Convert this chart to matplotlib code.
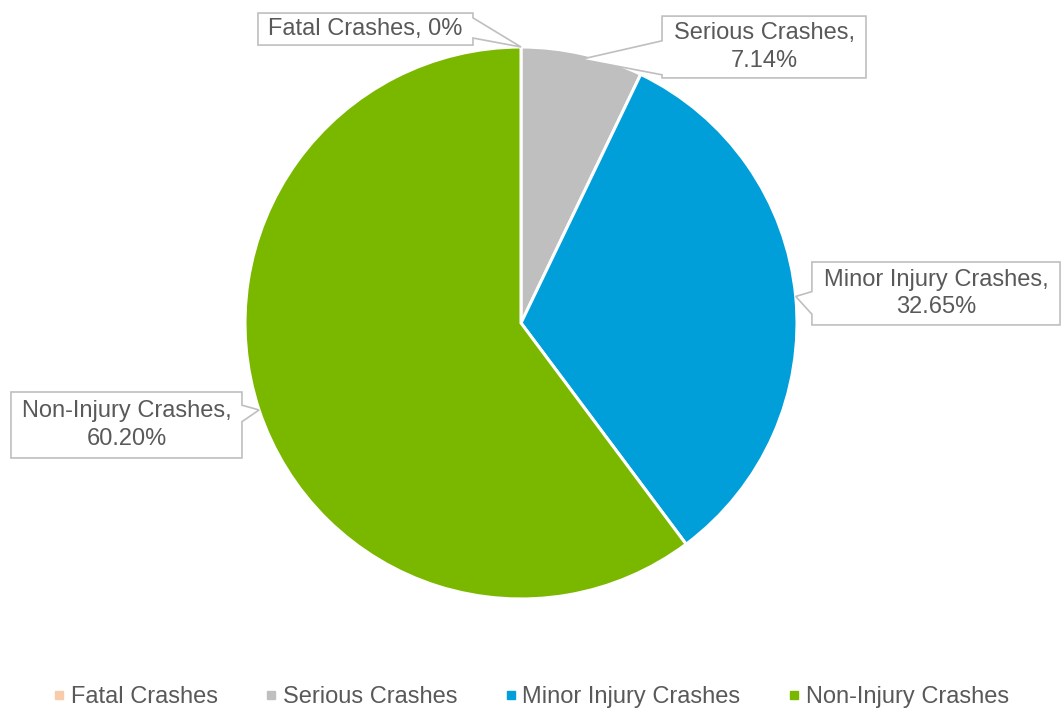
import numpy as np
import matplotlib.pyplot as plt
from matplotlib.patches import Polygon
from matplotlib.lines import Line2D

plt.rcParams['font.family'] = ['Liberation Sans', 'DejaVu Sans']

categories = ['Fatal Crashes', 'Serious Crashes', 'Minor Injury Crashes', 'Non-Injury Crashes']
values = [0, 7.14, 32.65, 60.20]
value_labels = ['0%', '7.14%', '32.65%', '60.20%']
colors = ['#F8CBAD', '#BFBFBF', '#009FDA', '#7AB800']

TEXT = '#595959'
EDGE = '#BFBFBF'

# callout boxes in axes data units (pie radius = 1): x0, x1, y0, y1, side of pointer, pointer base (fractions of height)
boxes = [
    (-0.953, -0.174, 1.007, 1.123, 'right', (0.15, 0.78), 1.0, False),
    (0.511, 1.250, 0.888, 1.112, 'left', (0.40, 0.95), 0.98, True),
    (1.054, 1.953, -0.007, 0.221, 'left', (0.47, 0.83), 1.0, True),
    (-1.848, -1.011, -0.489, -0.250, 'right', (0.20, 0.45), 1.0, True),
]

fig = plt.figure(figsize=(10.62, 7.08), dpi=100)
ax = fig.add_axes([0, 0, 1, 1])

wedges, _ = ax.pie(values, colors=colors, startangle=90, counterclock=False,
                   radius=1.0, center=(0, 0), frame=True,
                   wedgeprops=dict(edgecolor='white', linewidth=2.2))
ax.set_xlim(-521 / 276, (1062 - 521) / 276)
ax.set_ylim(-(708 - 323) / 276, 323 / 276)
ax.set_aspect('equal')
ax.axis('off')

total = sum(values)
starts = np.cumsum([0] + values[:-1])
for i, (cat, v, lab) in enumerate(zip(categories, values, value_labels)):
    mid = 90 - (starts[i] + v / 2) / total * 360
    x0, x1, y0, y1, side, base, rr, two_line = boxes[i]
    tip = (rr * np.cos(np.radians(mid)), rr * np.sin(np.radians(mid)))
    h = y1 - y0
    b_hi = y1 - base[0] * h
    b_lo = y1 - base[1] * h
    if side == 'right':
        pts = [(x0, y1), (x1, y1), (x1, b_hi), tip, (x1, b_lo), (x1, y0), (x0, y0)]
    else:
        pts = [(x0, y1), (x1, y1), (x1, y0), (x0, y0), (x0, b_lo), tip, (x0, b_hi)]
    ax.add_patch(Polygon(pts, closed=True, facecolor='white', edgecolor=EDGE,
                         linewidth=1.2, zorder=5))
    txt = f'{cat},\n{lab}' if two_line else f'{cat}, {lab}'
    ax.text((x0 + x1) / 2, (y0 + y1) / 2, txt, ha='center', va='center',
            fontsize=17, color=TEXT, linespacing=1.3, zorder=6)

handles = [Line2D([], [], marker='s', linestyle='none', markersize=6,
                  markerfacecolor=c, markeredgecolor=c) for c in colors]
fig.legend(handles, categories, loc='lower center', ncol=4, frameon=False,
           bbox_to_anchor=(0.5, -0.03), fontsize=17, labelcolor=TEXT,
           handlelength=0.5, handletextpad=0.25, columnspacing=2.0)

fig.savefig('out.png', dpi=100, facecolor='white')
